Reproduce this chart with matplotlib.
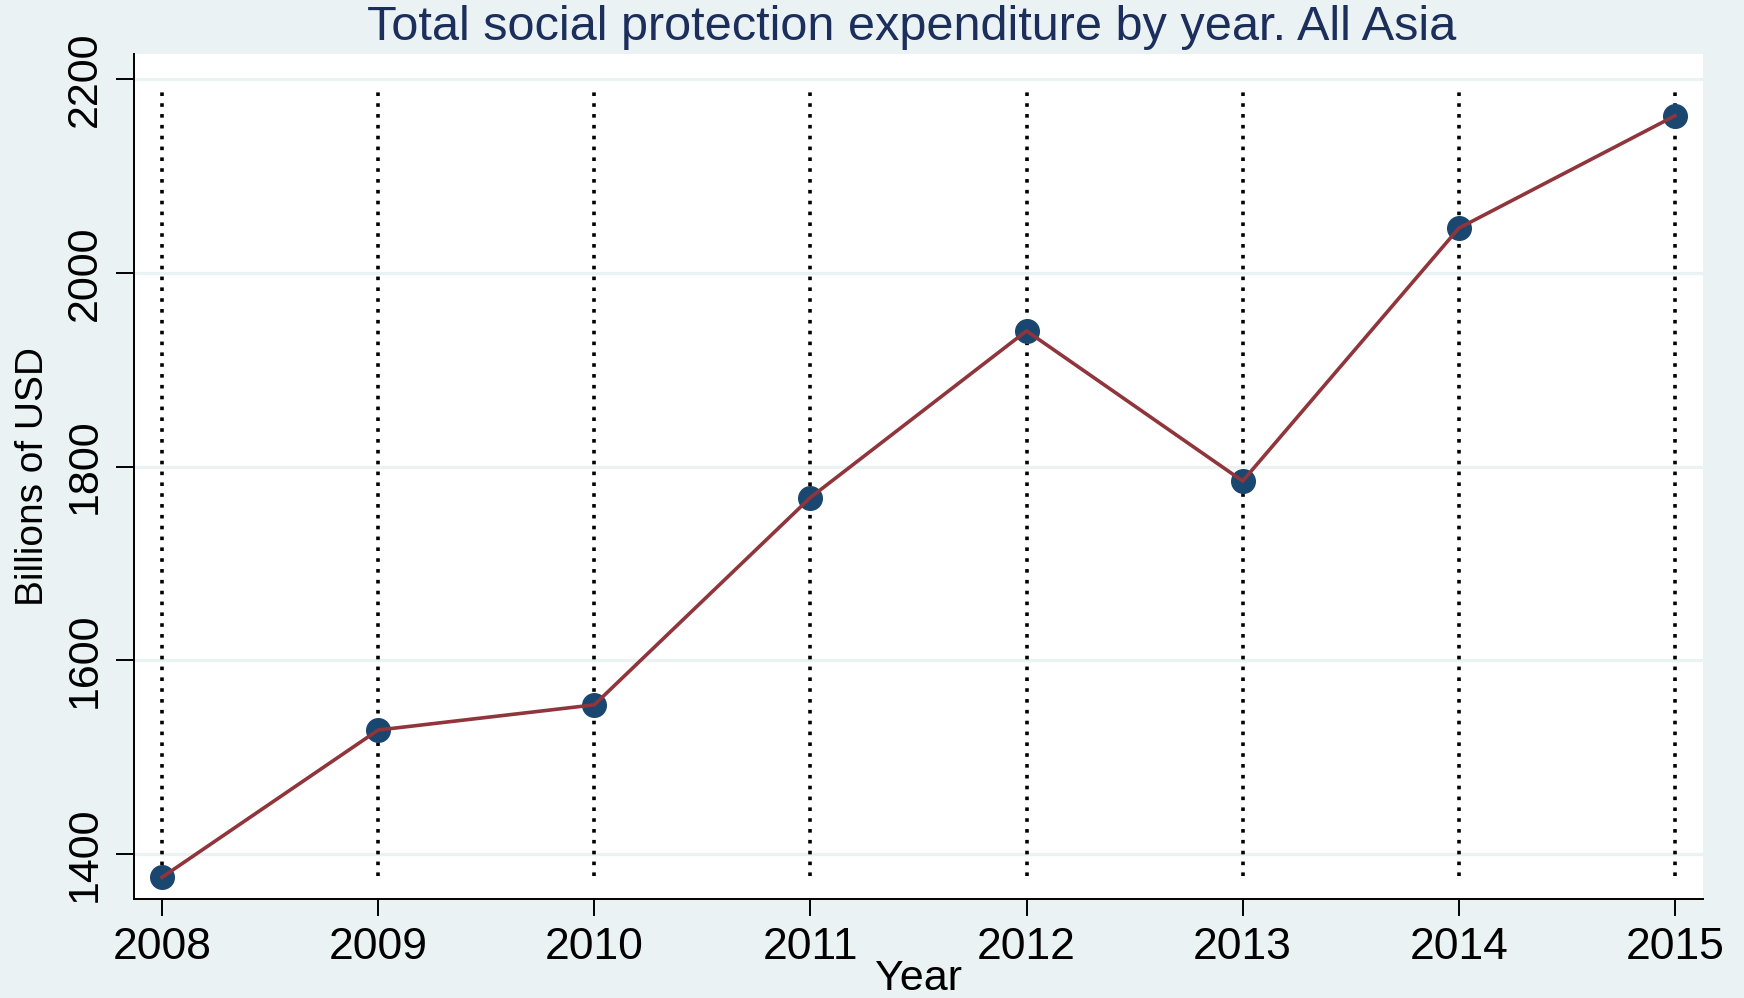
import matplotlib
matplotlib.use('Agg')
import matplotlib.pyplot as plt
import numpy as np

# data
years = [2008, 2009, 2010, 2011, 2012, 2013, 2014, 2015]
spend = [1376, 1528, 1554, 1768, 1940, 1785, 2046, 2162]
yticks = [1400, 1600, 1800, 2000, 2200]

bg = '#EAF2F3'
navy = '#1A476F'
maroon = '#90353B'

plt.rc('font', family='Liberation Sans')

fig = plt.figure(figsize=(17.44, 9.98), dpi=100, facecolor=bg)
ax = fig.add_axes([0.0768, 0.0992, 0.8997, 0.8467])
ax.set_facecolor('white')

# horizontal grid
for t in yticks:
    ax.axhline(t, color=bg, linewidth=2.3, zorder=1)

# dotted year lines
ax.vlines(years, 1377, 2191, colors='black', linestyles=(0, (1, 2.0)), linewidth=2.6, zorder=2)

ax.plot(years, spend, linestyle='none', marker='o', markersize=17, color=navy, zorder=3)
ax.plot(years, spend, color=maroon, linewidth=2.6, zorder=4)

ax.set_xlim(2007.87, 2015.13)
ax.set_ylim(1353.6, 2225.8)
ax.set_xticks(years)
ax.set_yticks(yticks)
ax.set_yticklabels([str(t) for t in yticks], rotation=90, va='center')
ax.tick_params(axis='x', labelsize=32, length=12, width=1.4, pad=8)
ax.tick_params(axis='y', labelsize=31, length=13, width=1.4, pad=8)

for s in ['top', 'right']:
    ax.spines[s].set_visible(False)
for s in ['left', 'bottom']:
    ax.spines[s].set_linewidth(1.4)

ax.set_ylabel('Billions of USD', fontsize=28, labelpad=10)
ax.set_xlabel('Year', fontsize=31, labelpad=-6)

fig.text(0.523, 0.9725, 'Total social protection expenditure by year. All Asia',
         ha='center', va='center', fontsize=35, color='#1C2F5C')

fig.savefig('out.png', dpi=100, facecolor=bg)
